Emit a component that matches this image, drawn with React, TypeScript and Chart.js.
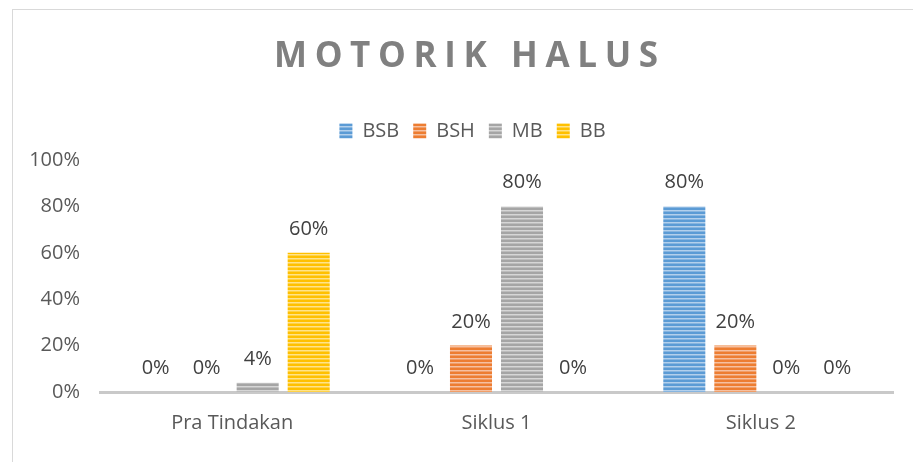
import React, { useEffect, useRef } from "react";
import { Chart, registerables } from "chart.js";

Chart.register(...registerables);

const categories = ["Pra Tindakan", "Siklus 1", "Siklus 2"];
const seriesNames = ["BSB", "BSH", "MB", "BB"];
const bsb = [0, 0, 80];
const bsh = [0, 20, 20];
const mb = [4, 80, 0];
const bb = [60, 0, 0];
const seriesColors = ["#5B9BD5", "#ED7D31", "#A5A5A5", "#FFC000"];
const lightColors = ["#b3d0ec", "#f6c0a0", "#d6d6d6", "#ffe38a"];
const yTicks = [0, 20, 40, 60, 80, 100];
const titleText = "MOTORIK HALUS";

function stripe(color: string, light: string) {
  const c = document.createElement("canvas");
  c.width = 8;
  c.height = 4;
  const g = c.getContext("2d")!;
  g.fillStyle = color;
  g.fillRect(0, 0, 8, 4);
  g.fillStyle = light;
  g.fillRect(0, 2, 8, 1);
  g.globalAlpha = 0.5;
  g.fillRect(0, 3, 8, 1);
  return g.createPattern(c, "repeat")!;
}

const FONT = "'Open Sans', 'Noto Sans', sans-serif";

const titlePlugin = {
  id: "customTitle",
  afterDraw(chart: any) {
    const ctx = chart.ctx;
    ctx.save();
    ctx.font = `bold 35px ${FONT}`;
    ctx.fillStyle = "#808080";
    ctx.textBaseline = "alphabetic";
    ctx.textAlign = "left";
    const plain = ctx.measureText(titleText).width;
    const targetW = 384;
    const sp = (targetW - plain) / (titleText.length - 1);
    let x = 466 - targetW / 2;
    for (const ch of titleText) {
      ctx.fillText(ch, x, 67);
      x += ctx.measureText(ch).width + sp;
    }
    ctx.restore();
  },
};

const legendAdjust = {
  id: "legendAdjust",
  afterInit(chart: any) {
    const lg = chart.legend;
    if (!lg || lg.__patched) return;
    lg.__patched = true;
    const fit = lg.fit;
    lg.fit = function (this: any) {
      fit.call(this);
      this.height += 9;
      this.minSize && (this.minSize.height = this.height);
    };
    const draw = lg.draw;
    lg.draw = function (this: any) {
      const ctx = this.ctx;
      ctx.save();
      ctx.translate(26, 0);
      draw.call(this);
      ctx.restore();
    };
  },
};

const labelPlugin = {
  id: "valueLabels",
  afterDatasetsDraw(chart: any) {
    const ctx = chart.ctx;
    ctx.save();
    ctx.font = `20px ${FONT}`;
    ctx.fillStyle = "#404040";
    ctx.textAlign = "center";
    ctx.textBaseline = "alphabetic";
    chart.data.datasets.forEach((ds: any, i: number) => {
      const meta = chart.getDatasetMeta(i);
      meta.data.forEach((el: any, j: number) => {
        ctx.fillText(`${ds.data[j]}%`, el.x, el.y - 18);
      });
    });
    ctx.restore();
  },
};

export default function App() {
  const ref = useRef<HTMLCanvasElement>(null);
  useEffect(() => {
    const values = [bsb, bsh, mb, bb];
    const chart = new Chart(ref.current!, {
      type: "bar",
      data: {
        labels: categories,
        datasets: seriesNames.map((name, i) => ({
          label: name,
          data: values[i],
          backgroundColor: stripe(seriesColors[i], lightColors[i]),
          borderWidth: 0,
          categoryPercentage: 0.772,
          barPercentage: 0.824,
        })),
      },
      options: {
        animation: false,
        responsive: false,
        layout: { padding: { top: 107, right: 20, left: 0, bottom: 0 } },
        plugins: {
          title: { display: false },
          tooltip: { enabled: false },
          legend: {
            position: "top",
            labels: {
              font: { family: FONT, size: 20 },
              color: "#595959",
              boxWidth: 13,
              boxHeight: 15,
              padding: 14,
            },
          },
        },
        scales: {
          x: {
            grid: { display: false, drawTicks: false },
            border: { display: true, color: "#c9c9c9", width: 3 },
            ticks: { font: { family: FONT, size: 20 }, color: "#595959", padding: 19 },
            afterFit: (s: any) => {
              s.height = 70;
            },
          },
          y: {
            min: 0,
            max: 100,
            afterBuildTicks: (s: any) => {
              s.ticks = yTicks.map((v) => ({ value: v }));
            },
            grid: { display: false, drawTicks: false },
            border: { display: false },
            ticks: {
              font: { family: FONT, size: 20 },
              color: "#595959",
              padding: 20,
              callback: (v: any) => `${v}%`,
            },
            afterFit: (s: any) => {
              s.width = 100;
            },
          },
        },
      },
      plugins: [legendAdjust, titlePlugin, labelPlugin],
    } as any);
    return () => chart.destroy();
  }, []);
  return (
    <div style={{ position: "fixed", left: 0, top: 0, width: 913, height: 462, overflow: "hidden", background: "#fff" }}>
      <div
        style={{
          position: "absolute",
          left: 12,
          top: 9,
          width: 1000,
          height: 1000,
          border: "1.5px solid #d9d9d9",
        }}
      />
      <canvas ref={ref} width={913} height={462} style={{ position: "absolute", left: 0, top: 0 }} />
    </div>
  );
}
